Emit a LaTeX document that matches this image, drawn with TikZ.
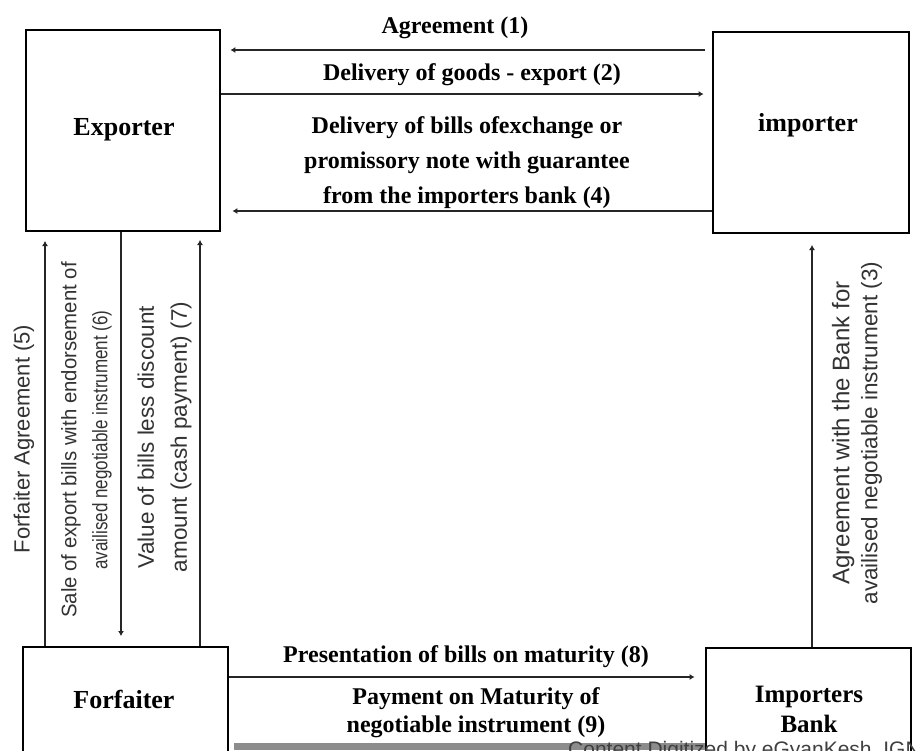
\documentclass[tikz,border=0pt]{standalone}
\usepackage{fontspec}
\setmainfont{Liberation Serif}
\setsansfont{Liberation Sans}
\usetikzlibrary{arrows.meta,calc}
\begin{document}
\begin{tikzpicture}[x=1pt,y=-1pt,
  box/.style={draw=black, line width=2.8pt, inner sep=0pt},
  conn/.style={line width=2.2pt, draw=black!85},
  arr/.style={conn, -{Latex[length=5pt,width=6pt]}},
  blab/.style={font=\fontsize{24}{35}\selectfont\bfseries, inner sep=0pt, align=center},
  boxlab/.style={font=\fontsize{26}{30}\selectfont\bfseries, inner sep=0pt, align=center},
  rlab/.style={font=\sffamily\fontsize{22}{30}\selectfont, rotate=90, inner sep=0pt, align=center, text=black!80}
]
\useasboundingbox (0,0) rectangle (916,750);
\clip (0,0) rectangle (916,750);
\fill[white] (0,0) rectangle (916,750);

% boxes
\node[box, minimum width=194pt, minimum height=201pt] (exp) at (123,130.5) {};
\node[box, minimum width=196pt, minimum height=201pt] (imp) at (811,132.5) {};
\node[box, minimum width=205pt, minimum height=153pt] (forf) at (125.5,723.5) {};
\node[box, minimum width=205pt, minimum height=152pt] (bank) at (808.5,724) {};

\node[boxlab, anchor=base] (explab) at (124,135) {Exporter};
\node[boxlab, anchor=base] (implab) at (808,131) {importer};
\node[boxlab, anchor=base] (forflab) at (124,708) {Forfaiter};
\node[boxlab, anchor=north, font=\fontsize{25}{30}\selectfont\bfseries] (banklab) at (809,686) {Importers\\Bank};

% helper coordinates
\coordinate (y1) at (0,50);
\coordinate (y2) at (0,94);
\coordinate (y4) at (0,211);
\coordinate (y8) at (0,677);
\coordinate (x5) at (45,241);
\coordinate (x6) at (121,636);
\coordinate (x7) at (200,240);
\coordinate (x3) at (812,245);

% horizontal connectors
\draw[arr] ($(imp.west |- y1)+(-7,0)$) -- ($(exp.east |- y1)+(9,0)$);
\draw[arr] (exp.east |- y2) -- ($(imp.west |- y2)+(-8,0)$);
\draw[arr] (imp.west |- y4) -- ($(exp.east |- y4)+(11,0)$);
\draw[arr] (forf.east |- y8) -- ($(bank.west |- y8)+(-10,0)$);
\draw[line width=7pt, draw=black!45] ($(forf.east |- 0,746)+(5,0)$) -- (bank.west |- 0,746);

% vertical connectors
\draw[arr] (x5 |- forf.north) -- (x5);
\draw[arr] (x6 |- exp.south) -- (x6);
\draw[arr] (x7 |- forf.north) -- (x7);
\draw[arr] (x3 |- bank.north) -- (x3);

% labels top
\node[blab, anchor=base] (l1) at (455,33) {Agreement (1)};
\node[blab, anchor=base] (l2) at (472,80) {Delivery of goods - export (2)};
\node[blab, anchor=north] (l4) at (467,116.5) {Delivery of bills ofexchange or\\promissory note with guarantee\\from the importers bank (4)};

% labels bottom
\node[blab, anchor=base] (l8) at (466,662) {Presentation of bills on maturity (8)};
\node[blab, anchor=north, font=\fontsize{24}{28}\selectfont\bfseries] (l9) at (476,687.5) {Payment on Maturity of\\negotiable instrument (9)};

% rotated labels
\node[rlab] (l5) at (24,439) {Forfaiter Agreement (5)};
\node[rlab, font=\sffamily\fontsize{21}{31}\selectfont] (l6) at (86.5,440) {\scalebox{0.97}[1]{Sale of export bills with endorsement of}\\\scalebox{0.81}[1]{availised negotiable instrument (6)}};
\node[rlab, font=\sffamily\fontsize{22.5}{33}\selectfont] (l7) at (164.5,437) {Value of bills less discount\\amount (cash payment) (7)};
\node[rlab, font=\sffamily\fontsize{23}{28}\selectfont] (l3) at (857,433) {{\fontsize{24}{28}\selectfont Agreement with the Bank for}\\{\fontsize{22.5}{28}\selectfont availised negotiable instrument (3)}};

% watermark
\node[anchor=north west, inner sep=0pt, font=\sffamily\fontsize{21}{21}\selectfont, text=black!75] (wm) at (568,741) {Content Digitized by eGyanKesh, IGNOU};
\end{tikzpicture}
\end{document}
